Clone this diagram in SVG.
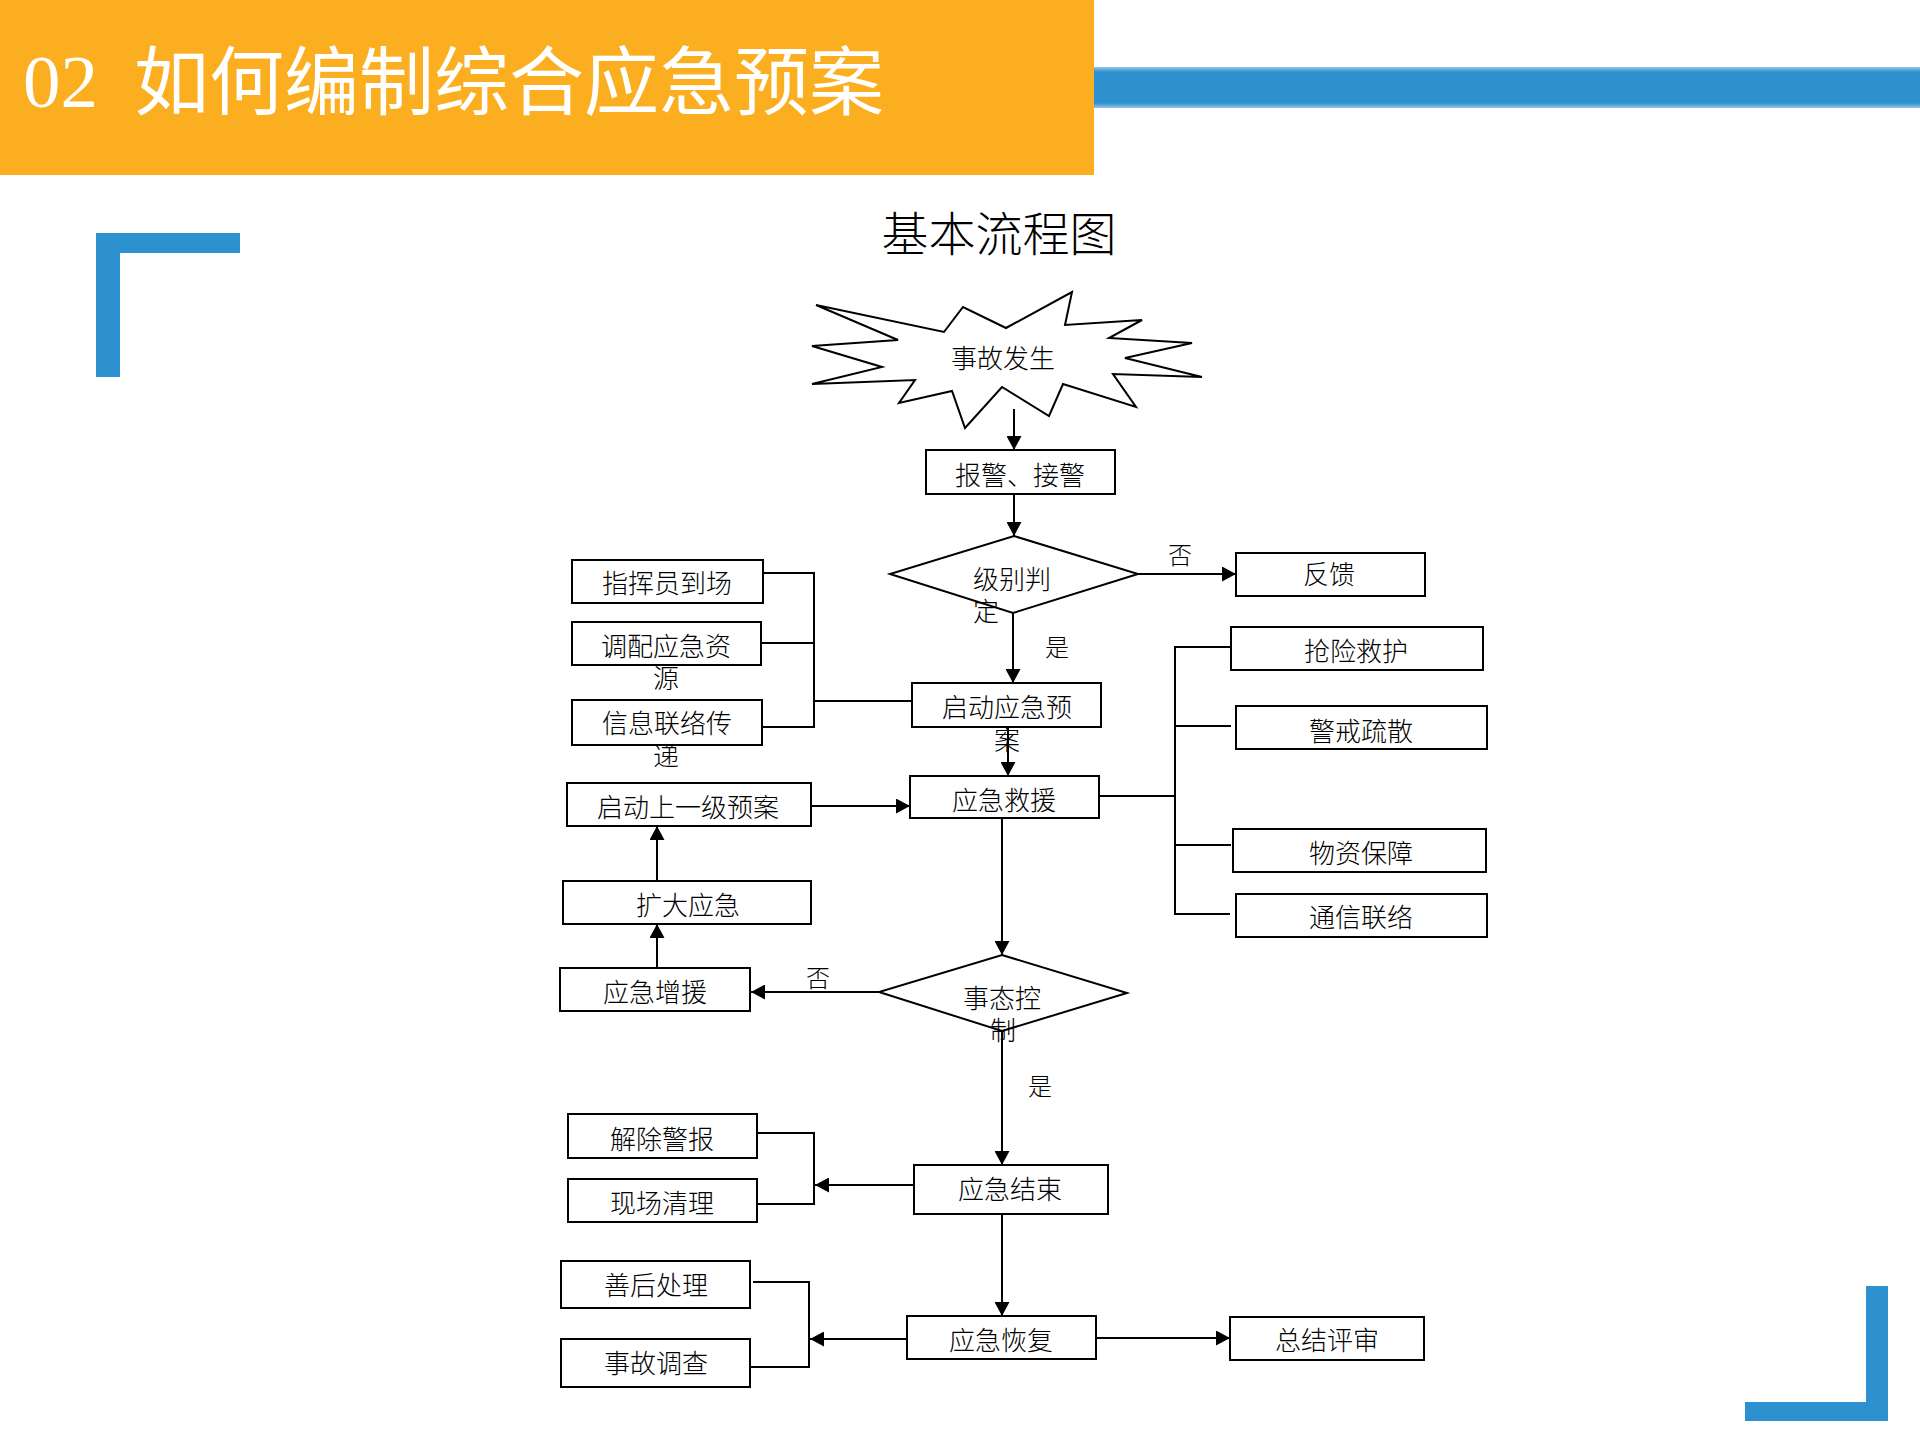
<svg xmlns="http://www.w3.org/2000/svg" width="1920" height="1440" viewBox="0 0 1920 1440">
<defs>
<style>
.box{fill:#fff;stroke:#000;stroke-width:2}
.ln{fill:none;stroke:#000;stroke-width:2}
.t{font-family:"Noto Sans CJK SC","Noto Sans CJK JP",sans-serif;font-size:26px;fill:#000;text-anchor:middle;dominant-baseline:central;font-weight:300}
.ts{text-anchor:start}
.lbl{font-size:24px}
</style>
<marker id="ah" markerUnits="userSpaceOnUse" markerWidth="15" markerHeight="15" refX="14" refY="7.5" orient="auto">
<path d="M0,0 L14,7.5 L0,15 z" fill="#000"/>
</marker>
<linearGradient id="bar" x1="0" y1="0" x2="0" y2="1">
<stop offset="0" stop-color="#2E91CF" stop-opacity="0.5"/>
<stop offset="0.12" stop-color="#2E91CF"/>
<stop offset="0.88" stop-color="#2E91CF"/>
<stop offset="1" stop-color="#2E91CF" stop-opacity="0.5"/>
</linearGradient>
</defs>
<rect width="1920" height="1440" fill="#fff"/>
<g id="header">
<rect x="0" y="0" width="1094" height="175" fill="#FCAE21"/>
<rect x="1094" y="67" width="826" height="41" fill="url(#bar)"/>
<text x="23" y="107" font-family="Liberation Serif, serif" font-size="75" fill="#fff">02</text>
<text x="134" y="109" font-family="Noto Sans CJK SC, sans-serif" font-size="75" fill="#fff">如何编制综合应急预案</text>
</g>
<g id="corners" fill="#2D91D0">
<rect x="96" y="233" width="24" height="144"/>
<rect x="96" y="233" width="144" height="20"/>
<rect x="1866" y="1286" width="22" height="135"/>
<rect x="1745" y="1402" width="143" height="19"/>
</g>
<text x="999" y="230" class="t" style="font-size:47px">基本流程图</text>
<g id="connectors">
<line class="ln" x1="1014" y1="409" x2="1014" y2="450" marker-end="url(#ah)"/>
<line class="ln" x1="1014" y1="494" x2="1014" y2="536" marker-end="url(#ah)"/>
<line class="ln" x1="1138" y1="574" x2="1236" y2="574" marker-end="url(#ah)"/>
<line class="ln" x1="1013" y1="613" x2="1013" y2="683" marker-end="url(#ah)"/>
<polyline class="ln" points="912,701 814,701"/>
<polyline class="ln" points="763,573 814,573 814,727 762,727"/>
<line class="ln" x1="761" y1="643" x2="814" y2="643"/>
<line class="ln" x1="1008" y1="727" x2="1008" y2="776" marker-end="url(#ah)"/>
<line class="ln" x1="811" y1="806" x2="910" y2="806" marker-end="url(#ah)"/>
<line class="ln" x1="657" y1="881" x2="657" y2="826" marker-end="url(#ah)"/>
<line class="ln" x1="657" y1="968" x2="657" y2="924" marker-end="url(#ah)"/>
<line class="ln" x1="1002" y1="818" x2="1002" y2="955" marker-end="url(#ah)"/>
<line class="ln" x1="1099" y1="796" x2="1175" y2="796"/>
<polyline class="ln" points="1231,647 1175,647 1175,914 1230,914"/>
<line class="ln" x1="1175" y1="726" x2="1231" y2="726"/>
<line class="ln" x1="1175" y1="845" x2="1231" y2="845"/>
<line class="ln" x1="879" y1="992" x2="751" y2="992" marker-end="url(#ah)"/>
<line class="ln" x1="1002" y1="1031" x2="1002" y2="1165" marker-end="url(#ah)"/>
<line class="ln" x1="914" y1="1185" x2="815" y2="1185" marker-end="url(#ah)"/>
<polyline class="ln" points="757,1133 814,1133 814,1204 757,1204"/>
<line class="ln" x1="1002" y1="1214" x2="1002" y2="1316" marker-end="url(#ah)"/>
<line class="ln" x1="907" y1="1339" x2="810" y2="1339" marker-end="url(#ah)"/>
<polyline class="ln" points="753,1282 809,1282 809,1367 750,1367"/>
<line class="ln" x1="1096" y1="1338" x2="1230" y2="1338" marker-end="url(#ah)"/>
<text class="t lbl" x="1180" y="553">否</text>
<text class="t lbl" x="1057" y="645">是</text>
<text class="t lbl" x="818" y="976">否</text>
<text class="t lbl" x="1040" y="1084">是</text>
</g>
<g id="n-start">
<polygon class="box" points="816,305 944,332 963,307 1006,328 1072,292 1065,325 1142,320 1109,338 1192,343 1125,358 1202,377 1113,374 1136,407 1063,384 1049,416 1002,387 965,428 952,391 899,403 915,380 812,384 882,367 812,346 898,340"/>
<text class="t" x="1003" y="356">事故发生</text>
</g>
<g id="n-alarm"><rect class="box" x="926" y="450" width="189" height="44"/><text class="t" x="1020" y="473">报警、接警</text></g>
<g id="n-level">
<polygon class="box" points="1014,536 1138,574 1013,613 890,574"/>
<text class="t ts" x="973" y="577">级别判</text>
<text class="t ts" x="973" y="609">定</text>
</g>
<g id="n-feedback"><rect class="box" x="1236" y="553" width="189" height="43"/><text class="t" x="1329" y="572">反馈</text></g>
<g id="n-commander"><rect class="box" x="572" y="560" width="191" height="43"/><text class="t" x="667" y="581">指挥员到场</text></g>
<g id="n-resource"><rect class="box" x="572" y="622" width="189" height="43"/><text class="t" x="666" y="644">调配应急资</text><text class="t" x="666" y="676">源</text></g>
<g id="n-info"><rect class="box" x="572" y="700" width="190" height="45"/><text class="t" x="667" y="721">信息联络传</text><text class="t" x="666" y="754">递</text></g>
<g id="n-plan"><rect class="box" x="912" y="683" width="189" height="44"/><text class="t" x="1007" y="705">启动应急预</text><text class="t" x="1007" y="738">案</text></g>
<g id="n-rescue"><rect class="box" x="910" y="776" width="189" height="42"/><text class="t" x="1004" y="798">应急救援</text></g>
<g id="n-upper"><rect class="box" x="567" y="783" width="244" height="43"/><text class="t" x="688" y="805">启动上一级预案</text></g>
<g id="n-expand"><rect class="box" x="563" y="881" width="248" height="43"/><text class="t" x="688" y="903">扩大应急</text></g>
<g id="n-reinforce"><rect class="box" x="560" y="968" width="190" height="43"/><text class="t" x="655" y="990">应急增援</text></g>
<g id="n-rescue1"><rect class="box" x="1231" y="627" width="252" height="43"/><text class="t" x="1356" y="649">抢险救护</text></g>
<g id="n-rescue2"><rect class="box" x="1236" y="706" width="251" height="43"/><text class="t" x="1361" y="729">警戒疏散</text></g>
<g id="n-rescue3"><rect class="box" x="1233" y="829" width="253" height="43"/><text class="t" x="1361" y="851">物资保障</text></g>
<g id="n-rescue4"><rect class="box" x="1236" y="894" width="251" height="43"/><text class="t" x="1361" y="915">通信联络</text></g>
<g id="n-control">
<polygon class="box" points="1002,955 1127,993 1002,1031 879,992"/>
<text class="t" x="1002" y="996">事态控</text>
<text class="t" x="1003" y="1028">制</text>
</g>
<g id="n-end"><rect class="box" x="914" y="1165" width="194" height="49"/><text class="t" x="1010" y="1187">应急结束</text></g>
<g id="n-clear"><rect class="box" x="568" y="1114" width="189" height="44"/><text class="t" x="662" y="1137">解除警报</text></g>
<g id="n-clean"><rect class="box" x="568" y="1179" width="189" height="43"/><text class="t" x="662" y="1201">现场清理</text></g>
<g id="n-recover"><rect class="box" x="907" y="1316" width="189" height="43"/><text class="t" x="1001" y="1338">应急恢复</text></g>
<g id="n-after"><rect class="box" x="561" y="1261" width="189" height="47"/><text class="t" x="656" y="1283">善后处理</text></g>
<g id="n-investigate"><rect class="box" x="561" y="1339" width="189" height="48"/><text class="t" x="656" y="1361">事故调查</text></g>
<g id="n-review"><rect class="box" x="1230" y="1317" width="194" height="43"/><text class="t" x="1327" y="1338">总结评审</text></g>
</svg>
